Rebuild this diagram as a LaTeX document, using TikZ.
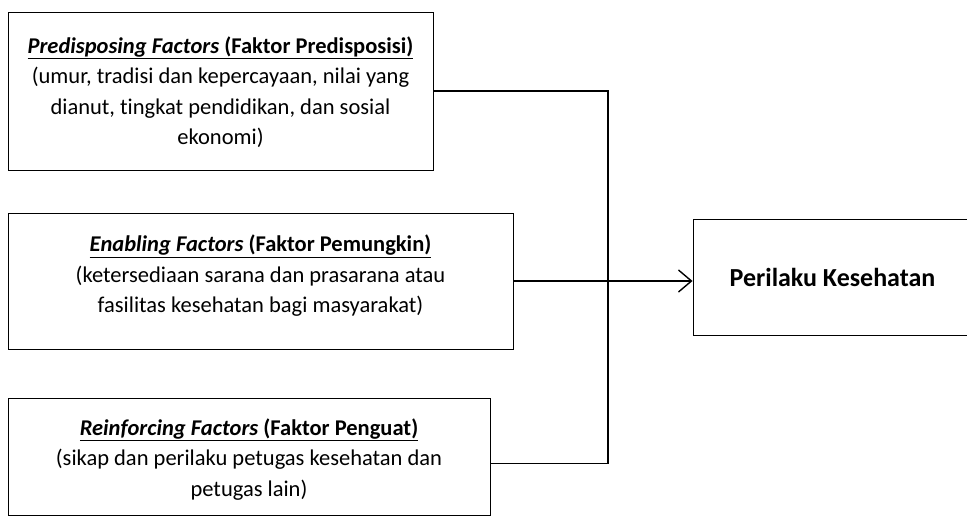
\documentclass[tikz,border=0pt]{standalone}
\usepackage{fontspec}
\setmainfont[Ligatures={NoCommon}]{Carlito}
\usetikzlibrary{arrows.meta,calc}
\begin{document}
\begin{tikzpicture}[x=1pt,y=1pt,
  boxline/.style={draw=black,line width=0.9pt,inner sep=0pt},
  boxtext/.style={align=center,inner sep=0pt,font=\fontsize{22.5}{30.5}\selectfont},
  conn/.style={line width=1.4pt},
  arr/.style={conn,-{Straight Barb[length=13pt,width=22pt,line width=1.4pt]}}]
\useasboundingbox (0,0) rectangle (967,528);
\node[boxline,minimum width=425pt,minimum height=158pt] (p) at (220.5,437) {};
\node[boxtext] (pt) at ($(p.center)+(0,-1)$)
  {\underline{\textbf{\textit{Predisposing Factors}} \textbf{(Faktor Predisposisi)}}\\
   (umur, tradisi dan kepercayaan, nilai yang\\
   dianut, tingkat pendidikan, dan sosial\\
   ekonomi)};
\node[boxline,minimum width=505pt,minimum height=136pt] (e) at (260.5,247) {};
\node[boxtext] (et) at ($(e.center)+(0,5)$)
  {\underline{\textbf{\textit{Enabling Factors}} \textbf{(Faktor Pemungkin)}}\\
   (ketersediaan sarana dan prasarana atau\\
   fasilitas kesehatan bagi masyarakat)};
\node[boxline,minimum width=482pt,minimum height=117pt] (r) at (249,71.5) {};
\node[boxtext] (rt) at ($(r.center)+(0,-3)$)
  {\underline{\textbf{\textit{Reinforcing Factors}} \textbf{(Faktor Penguat)}}\\
   (sikap dan perilaku petugas kesehatan dan\\
   petugas lain)};
\node[boxline,minimum width=287pt,minimum height=116pt] (h) at (836.5,251) {};
\node[boxtext,font=\fontsize{26}{32}\selectfont\bfseries] (ht) at ($(h.center)+(-4,0)$)
  {Perilaku Kesehatan};
\coordinate (j) at (608,247);
\draw[conn] (p.east) -| (j);
\draw[conn] ($(r.east)+(0,-7)$) -| (j);
\draw[arr] (e.east) -- (e.east -| h.west);
\end{tikzpicture}
\end{document}
